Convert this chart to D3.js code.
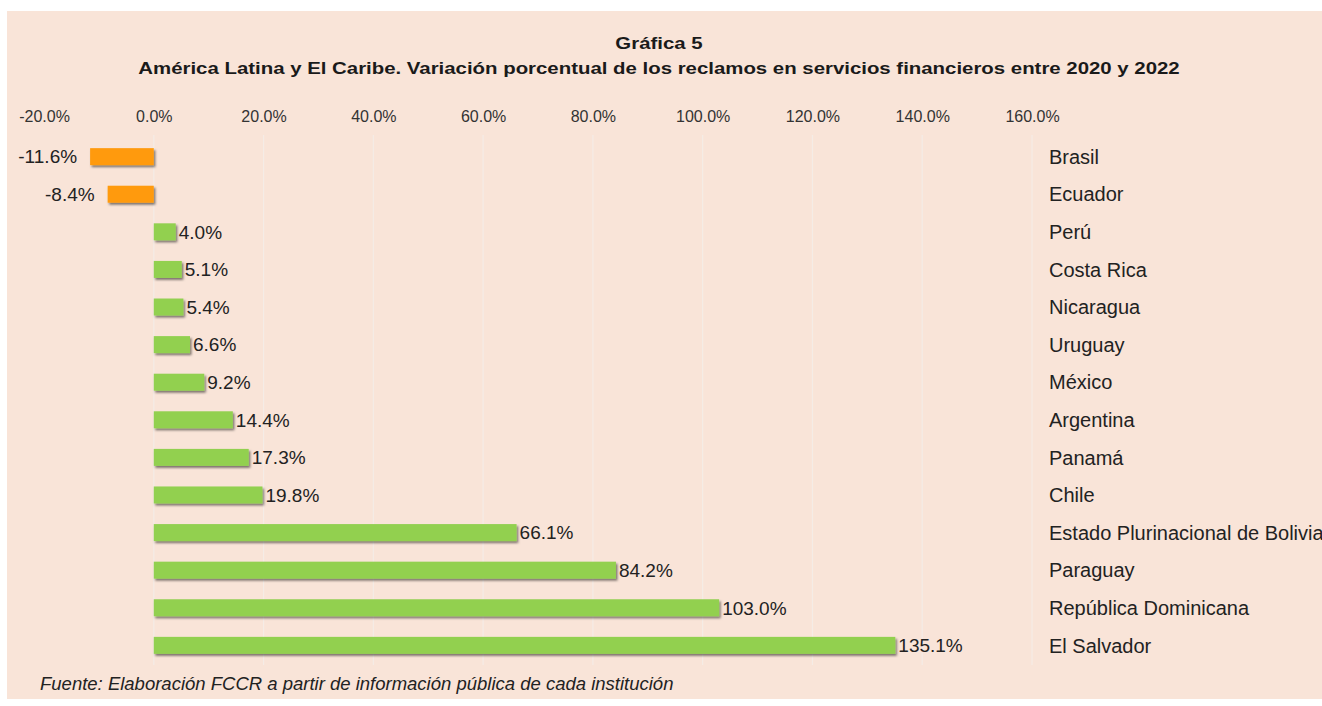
<!DOCTYPE html>
<html>
<head>
<meta charset="utf-8">
<script src="https://cdn.jsdelivr.net/npm/d3@7"></script>
<style>
  body { margin: 0; background: #fff; }
  svg { display: block; font-family: "Liberation Sans", Arial, sans-serif; }
</style>
</head>
<body>
<svg id="chart" width="1322" height="706"></svg>
<script>
// data
const countries = ['Brasil', 'Ecuador', 'Perú', 'Costa Rica', 'Nicaragua', 'Uruguay', 'México',
  'Argentina', 'Panamá', 'Chile', 'Estado Plurinacional de Bolivia', 'Paraguay',
  'República Dominicana', 'El Salvador'];
const values = [-11.6, -8.4, 4.0, 5.1, 5.4, 6.6, 9.2, 14.4, 17.3, 19.8, 66.1, 84.2, 103.0, 135.1];
const ticks = [-20, 0, 20, 40, 60, 80, 100, 120, 140, 160];

const pct = d => d.toFixed(1) + '%';   // plain hyphen for negatives, like the original

const svg = d3.select('#chart');

// panel background
svg.append('rect').attr('x', 7).attr('y', 11).attr('width', 1315).attr('height', 688)
  .attr('fill', '#F9E4D8');

// drop shadow for bars
const defs = svg.append('defs');
const f = defs.append('filter').attr('id', 'shadow').attr('x', '-10%').attr('y', '-30%')
  .attr('width', '130%').attr('height', '180%');
f.append('feDropShadow').attr('dx', 1.5).attr('dy', 2).attr('stdDeviation', 1.2)
  .attr('flood-color', '#000').attr('flood-opacity', 0.5);

const x = d3.scaleLinear().domain([-20, 160]).range([44, 1032]);
const y = d3.scaleBand().domain(countries).range([138, 664]).paddingInner(0.548).paddingOuter(0.27);

// titles (stretched a bit horizontally like the source)
const title = (txt, yy) => svg.append('text')
  .attr('transform', `translate(659,${yy}) scale(1.2,1)`)
  .attr('text-anchor', 'middle')
  .attr('font-size', 17).attr('font-weight', 'bold').attr('fill', '#1a1a1a').text(txt);
title('Gráfica 5', 49);
title('América Latina y El Caribe. Variación porcentual de los reclamos en servicios financieros entre 2020 y  2022', 74);

// gridlines
svg.append('g').selectAll('line').data(ticks.slice(1)).join('line')
  .attr('x1', d => x(d)).attr('x2', d => x(d))
  .attr('y1', 135).attr('y2', 665)
  .attr('stroke', '#F5ECE6').attr('stroke-width', 1.2);

// top axis labels
const axis = d3.axisTop(x).tickValues(ticks).tickSize(0).tickFormat(pct);
const ga = svg.append('g').attr('transform', 'translate(0,125)').call(axis);
ga.select('.domain').remove();
ga.selectAll('text').attr('font-size', 16).attr('fill', '#333')
  .attr('font-family', '"Liberation Sans", Arial, sans-serif');

// bars
svg.append('g').selectAll('rect').data(values).join('rect')
  .attr('x', d => x(Math.min(0, d)))
  .attr('y', (d, i) => y(countries[i]))
  .attr('width', d => Math.abs(x(d) - x(0)))
  .attr('height', y.bandwidth())
  .attr('fill', d => d < 0 ? '#FF9A0A' : '#92D050')
  .attr('filter', 'url(#shadow)');

// value labels
svg.append('g').selectAll('text').data(values).join('text')
  .attr('x', d => d < 0 ? x(d) - 13 : x(d) + 3)
  .attr('y', (d, i) => y(countries[i]) + y.bandwidth() / 2)
  .attr('dy', '0.36em')
  .attr('text-anchor', d => d < 0 ? 'end' : 'start')
  .attr('font-size', 19).attr('fill', '#222')
  .text(pct);

// category labels (the long Bolivia label runs off the right edge, as in the source)
svg.append('g').selectAll('text').data(countries).join('text')
  .attr('x', 1049)
  .attr('y', d => y(d) + y.bandwidth() / 2)
  .attr('dy', '0.36em')
  .attr('font-size', 20).attr('fill', '#222')
  .text(d => d);

// source
svg.append('text').attr('x', 40).attr('y', 690).attr('font-size', 18.5)
  .attr('font-style', 'italic').attr('fill', '#222')
  .text('Fuente: Elaboración FCCR a partir de información pública de cada institución');
</script>
</body>
</html>
